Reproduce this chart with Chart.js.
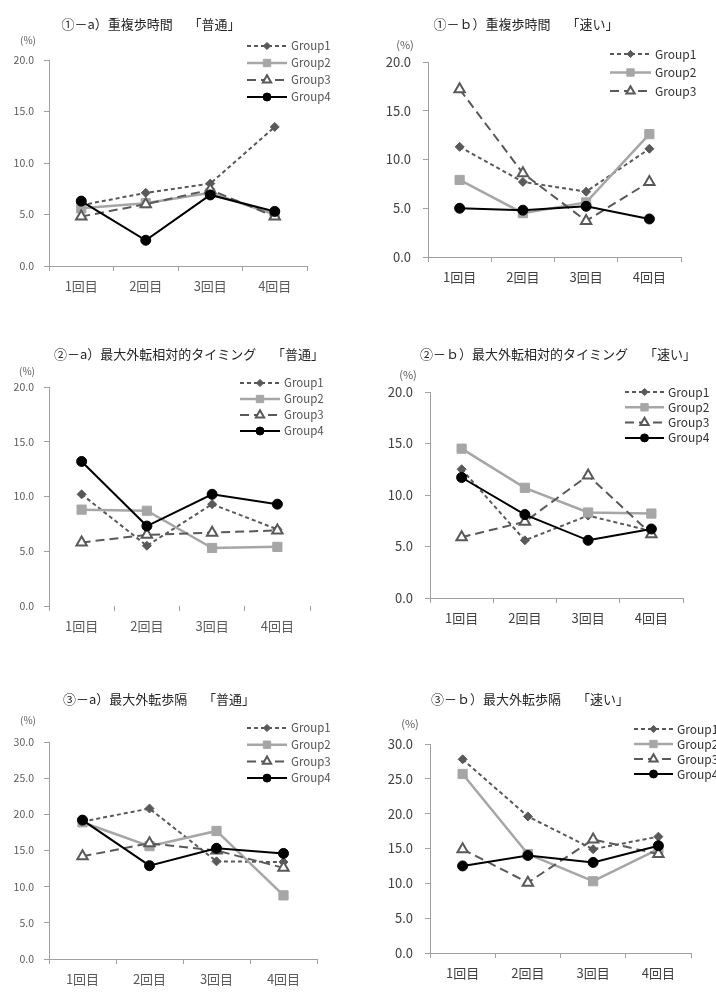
<!DOCTYPE html>
<html lang="ja">
<head>
<meta charset="UTF-8">
<title>重複歩時間・最大外転相対的タイミング・最大外転歩隔</title>
<script src="https://cdn.jsdelivr.net/npm/chart.js"></script>
<style>
  body { margin: 0; background: #fff; }
  #wrap { position: relative; width: 716px; height: 996px; overflow: hidden; }
  canvas { position: absolute; }
</style>
</head>
<body>
<div id="wrap">
  <canvas id="c1" width="358" height="300" style="left:0;top:0"></canvas>
  <canvas id="c2" width="358" height="300" style="left:358px;top:0"></canvas>
  <canvas id="c3" width="358" height="310" style="left:0;top:330px"></canvas>
  <canvas id="c4" width="358" height="310" style="left:358px;top:330px"></canvas>
  <canvas id="c5" width="358" height="316" style="left:0;top:680px"></canvas>
  <canvas id="c6" width="358" height="316" style="left:358px;top:680px"></canvas>
</div>
<script>
const categories = ['1回目', '2回目', '3回目', '4回目'];
const groupNames = ['Group1', 'Group2', 'Group3', 'Group4'];

// ①-a 重複歩時間「普通」
const overlapNormal1 = [5.9, 7.1, 8.0, 13.5];
const overlapNormal2 = [5.6, 6.1, 7.1, 5.0];
const overlapNormal3 = [4.8, 6.0, 7.4, 4.8];
const overlapNormal4 = [6.3, 2.5, 6.9, 5.3];

// ①-b 重複歩時間「速い」
const overlapFast1 = [11.3, 7.7, 6.7, 11.1];
const overlapFast2 = [7.9, 4.5, 5.6, 12.6];
const overlapFast3 = [17.2, 8.6, 3.7, 7.7];
const overlapFast4 = [5.0, 4.8, 5.2, 3.9];

// ②-a 最大外転相対的タイミング「普通」
const timingNormal1 = [10.2, 5.5, 9.3, 7.0];
const timingNormal2 = [8.8, 8.7, 5.3, 5.4];
const timingNormal3 = [5.8, 6.5, 6.7, 6.9];
const timingNormal4 = [13.2, 7.3, 10.2, 9.3];

// ②-b 最大外転相対的タイミング「速い」
const timingFast1 = [12.5, 5.6, 8.0, 6.5];
const timingFast2 = [14.5, 10.7, 8.3, 8.2];
const timingFast3 = [5.9, 7.4, 11.9, 6.2];
const timingFast4 = [11.7, 8.1, 5.6, 6.7];

// ③-a 最大外転歩隔「普通」
const widthNormal1 = [19.0, 20.8, 13.5, 13.4];
const widthNormal2 = [18.9, 15.6, 17.7, 8.8];
const widthNormal3 = [14.2, 16.0, 15.0, 12.6];
const widthNormal4 = [19.2, 12.9, 15.3, 14.6];

// ③-b 最大外転歩隔「速い」
const widthFast1 = [27.8, 19.6, 14.9, 16.7];
const widthFast2 = [25.7, 14.2, 10.3, 14.9];
const widthFast3 = [14.9, 10.1, 16.3, 14.2];
const widthFast4 = [12.5, 14.0, 13.0, 15.4];

const FONT = '"Noto Sans CJK JP", "Noto Sans", sans-serif';

// line / marker look of each group
const seriesStyle = [
  { color: '#595959', dash: [4, 3], width: 2, point: 'rectRot', radius: 4.5, fill: '#595959', pbw: 1 },
  { color: '#a6a6a6', dash: [], width: 2.5, point: 'rect', radius: 6.5, fill: '#a6a6a6', pbw: 1 },
  { color: '#595959', dash: [9, 5], width: 2, point: 'triangle', radius: 6, fill: '#ffffff', pbw: 2 },
  { color: '#000000', dash: [], width: 2, point: 'circle', radius: 5, fill: '#000000', pbw: 1 }
];

// titles, unit mark and line legend drawn on top of the chart
const decor = {
  id: 'decor',
  afterDraw(chart, args, o) {
    const ctx = chart.ctx;
    ctx.save();
    ctx.textBaseline = 'middle';
    ctx.textAlign = 'center';
    ctx.fillStyle = o.titleColor;
    ctx.font = o.titleSize + 'px ' + FONT;
    ctx.fillText(o.title, o.titleX, o.titleY);

    ctx.fillStyle = o.unitColor;
    ctx.font = o.unitSize + 'px ' + FONT;
    ctx.fillText('(%)', o.unitX, o.unitY);

    ctx.textAlign = 'left';
    ctx.font = o.legendSize + 'px ' + FONT;
    chart.data.datasets.forEach((ds, i) => {
      if (i >= o.legendCount) return;
      const y = o.legendY + i * o.legendStep;
      const x0 = o.legendX, x1 = o.legendX + o.legendLen;
      ctx.strokeStyle = ds.borderColor;
      ctx.lineWidth = ds.borderWidth;
      ctx.setLineDash(ds.borderDash || []);
      ctx.beginPath();
      ctx.moveTo(x0, y);
      ctx.lineTo(x1, y);
      ctx.stroke();
      ctx.setLineDash([]);
      ctx.fillStyle = ds.pointBackgroundColor;
      ctx.strokeStyle = ds.pointBorderColor;
      ctx.lineWidth = ds.pointBorderWidth;
      Chart.helpers.drawPoint(ctx, {
        pointStyle: ds.pointStyle,
        radius: ds.pointRadius * 0.8,
        borderWidth: ds.pointBorderWidth,
        rotation: 0
      }, (x0 + x1) / 2, y);
      ctx.fillStyle = o.legendColor;
      ctx.fillText(ds.label, x1 + 4, y);
    });
    ctx.restore();
  }
};

function makeChart(id, p) {
  const left = p.side === 'left';
  const tickColor = left ? '#5a5a5a' : '#404040';
  new Chart(document.getElementById(id), {
    type: 'line',
    data: {
      labels: categories,
      datasets: p.series.map((values, i) => ({
        label: groupNames[i],
        data: values,
        borderColor: seriesStyle[i].color,
        borderWidth: seriesStyle[i].width,
        borderDash: seriesStyle[i].dash,
        pointStyle: seriesStyle[i].point,
        pointRadius: seriesStyle[i].radius,
        pointBackgroundColor: seriesStyle[i].fill,
        pointBorderColor: seriesStyle[i].color,
        pointBorderWidth: seriesStyle[i].pbw,
        tension: 0,
        fill: false,
        order: 4 - i
      }))
    },
    options: {
      responsive: false,
      animation: false,
      devicePixelRatio: 1,
      layout: { padding: { left: 0, right: p.padR, top: p.padT, bottom: 0 } },
      plugins: {
        legend: { display: false },
        tooltip: { enabled: false },
        decor: {
          title: p.title, titleX: p.titleX, titleY: p.titleY,
          titleSize: 13, titleColor: '#262626',
          unitX: p.unitX, unitY: p.unitY, unitSize: left ? 10 : 11, unitColor: '#595959',
          legendX: p.legX, legendY: p.legY, legendStep: p.legStep, legendLen: p.legLen,
          legendCount: p.legCount || 4, legendSize: left ? 11.5 : 12,
          legendColor: left ? '#555' : '#333'
        }
      },
      scales: {
        x: {
          offset: true,
          grid: { offset: true, drawOnChartArea: false, tickLength: 5, color: '#a0a0a0' },
          border: { display: p.xBorder !== false, color: '#a0a0a0' },
          ticks: { padding: 7, color: tickColor, font: { family: FONT, size: 13 } },
          afterFit(s) { s.height = p.hX; }
        },
        y: {
          min: 0,
          max: p.max,
          ticks: {
            stepSize: 5,
            padding: left ? 10 : 12,
            color: tickColor,
            font: { family: FONT, size: left ? 10.5 : 13 },
            callback: v => v.toFixed(1)
          },
          grid: { drawOnChartArea: false, tickLength: 5, color: '#a0a0a0' },
          border: { color: '#a0a0a0' },
          afterFit(s) { s.width = p.wY; }
        }
      }
    },
    plugins: [decor]
  });
}

makeChart('c1', {
  side: 'left', max: 20,
  series: [overlapNormal1, overlapNormal2, overlapNormal3, overlapNormal4],
  title: '①－a）重複歩時間　 「普通」', titleX: 151, titleY: 24,
  unitX: 28, unitY: 40,
  wY: 49, padR: 51, padT: 60, hX: 34,
  legX: 247, legY: 46, legStep: 17, legLen: 40
});

makeChart('c2', {
  side: 'right', max: 20,
  series: [overlapFast1, overlapFast2, overlapFast3, overlapFast4],
  title: '①－ｂ）重複歩時間　 「速い」', titleX: 168, titleY: 24,
  unitX: 47, unitY: 45,
  wY: 70, padR: 35, padT: 62, hX: 43,
  legX: 252, legY: 54, legStep: 18.5, legLen: 41, legCount: 3
});

makeChart('c3', {
  side: 'left', max: 20, xBorder: false,
  series: [timingNormal1, timingNormal2, timingNormal3, timingNormal4],
  title: '②－a）最大外転相対的タイミング　 「普通」', titleX: 189, titleY: 24,
  unitX: 27, unitY: 41,
  wY: 49, padR: 48, padT: 57, hX: 34,
  legX: 240, legY: 53, legStep: 16, legLen: 40
});

makeChart('c4', {
  side: 'right', max: 20,
  series: [timingFast1, timingFast2, timingFast3, timingFast4],
  title: '②－ｂ）最大外転相対的タイミング　 「速い」', titleX: 200, titleY: 24,
  unitX: 50, unitY: 45,
  wY: 72, padR: 33, padT: 62, hX: 42,
  legX: 267, legY: 62, legStep: 15.3, legLen: 39
});

makeChart('c5', {
  side: 'left', max: 30,
  series: [widthNormal1, widthNormal2, widthNormal3, widthNormal4],
  title: '③－a）最大外転歩隔　 「普通」', titleX: 159, titleY: 19,
  unitX: 28, unitY: 40,
  wY: 49, padR: 41, padT: 62, hX: 37,
  legX: 247, legY: 48, legStep: 16.7, legLen: 40
});

makeChart('c6', {
  side: 'right', max: 30,
  series: [widthFast1, widthFast2, widthFast3, widthFast4],
  title: '③－ｂ）最大外転歩隔　 「速い」', titleX: 172, titleY: 19,
  unitX: 52, unitY: 44,
  wY: 72, padR: 25, padT: 64, hX: 43,
  legX: 276, legY: 49, legStep: 15, legLen: 39
});
</script>
</body>
</html>
